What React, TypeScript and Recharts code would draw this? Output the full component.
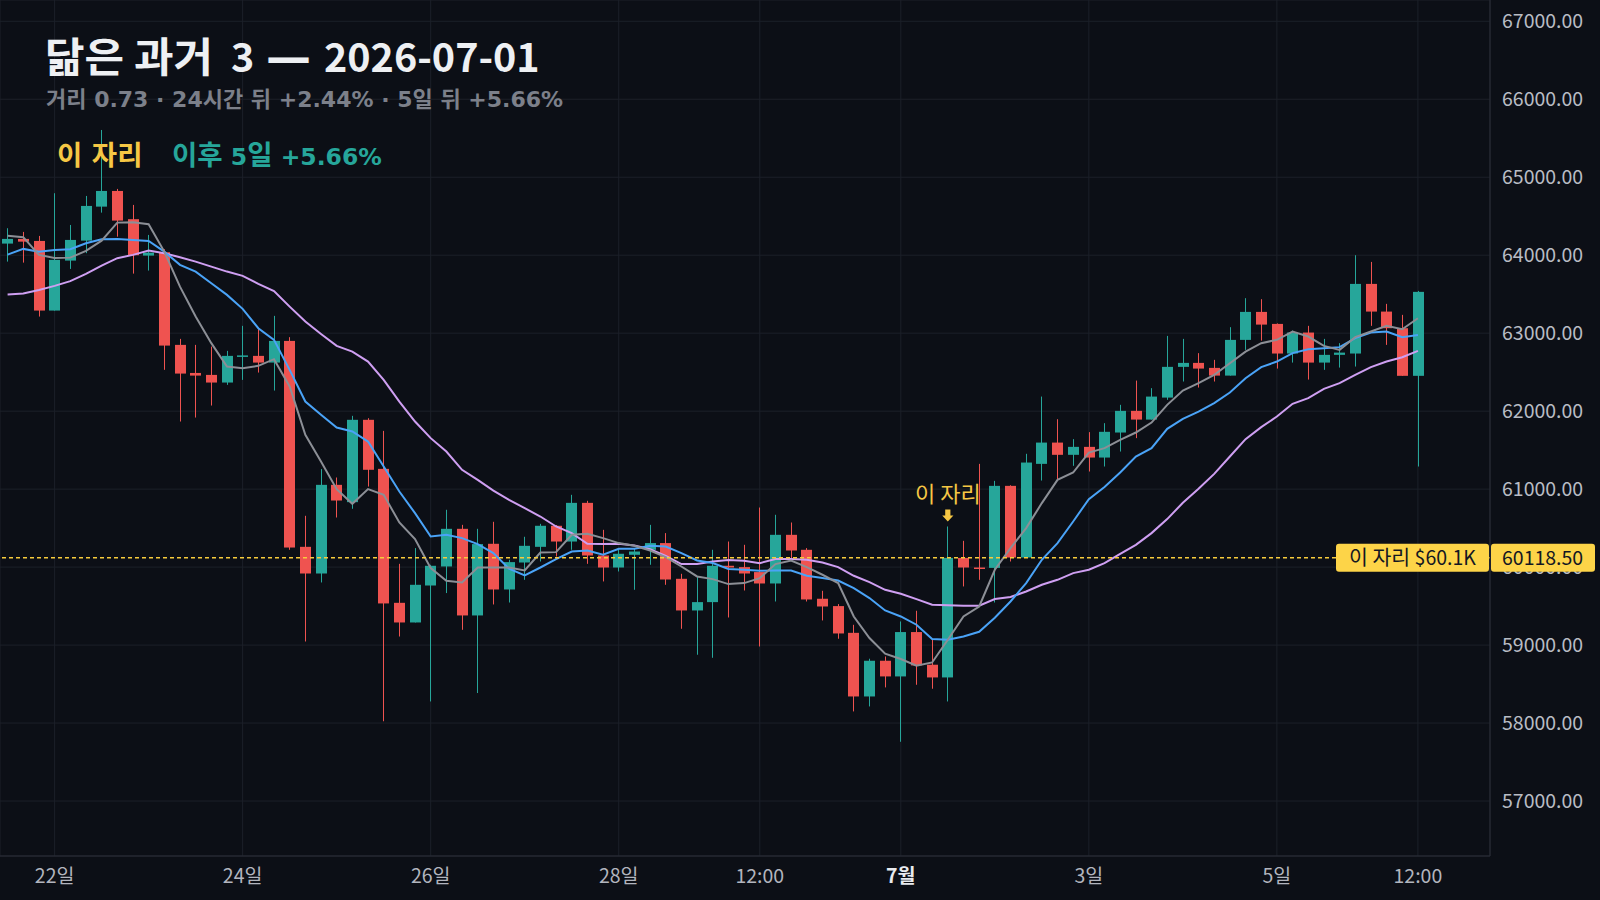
import React from 'react';
import {
  ComposedChart,
  Bar,
  Line,
  XAxis,
  YAxis,
  CartesianGrid,
  ReferenceLine,
  ReferenceDot,
} from 'recharts';

// 4h candles, 2026-06-21 12:00 .. 2026-07-06 12:00
const opens = [
  64149, 64209, 64183, 63290, 63931, 64187, 64623, 64824, 64462, 63995,
  64038, 62850, 62490, 62465, 62367, 62705, 62709, 62623, 62901, 60260,
  59918, 61055, 60833, 61889, 61260, 59542, 59290, 59764, 60008, 60491,
  59380, 60299, 59713, 60059, 60260, 60530, 60328, 60824, 60149, 59995,
  60158, 60222, 60308, 59850, 59444, 59551, 60017, 60000, 59936, 59790,
  60414, 60222, 59594, 59500, 59157, 58341, 58799, 58598, 59167, 58748,
  58585, 60118, 59995, 59990, 61042, 60123, 61324, 61597, 61440, 61542,
  61405, 61726, 62004, 61892, 62174, 62568, 62619, 62555, 62456, 62914,
  63273, 63119, 62739, 63008, 62623, 62722, 62739, 63632, 63277, 63064,
  62453,
];
const highs = [
  64346, 64299, 64247, 64795, 64388, 64760, 65606, 64850, 64645, 64260,
  64077, 62927, 62850, 62828, 62773, 63094, 63051, 63222, 62949, 60658,
  61257, 61149, 61940, 61910, 61747, 60042, 60244, 60030, 60735, 60542,
  60491, 60581, 60094, 60389, 60555, 60540, 60927, 60850, 60478, 60222,
  60244, 60542, 60436, 59914, 59872, 60222, 60328, 60286, 60764, 60671,
  60572, 60244, 59696, 59526, 59260, 58825, 58854, 59303, 59440, 59068,
  60521, 60337, 61324, 61106, 61050, 61453, 62187, 61897, 61641, 61731,
  61846, 62081, 62392, 62295, 62965, 62927, 62744, 62658, 63077, 63449,
  63436, 63125, 63033, 63094, 62927, 62872, 64000, 63914, 63376, 63235,
  63542,
];
const lows = [
  63918, 63905, 63213, 63290, 63824, 64026, 64546, 64238, 63764, 63803,
  62530, 61867, 61918, 62072, 62337, 62401, 62495, 62264, 60222, 59046,
  59803, 60636, 60748, 61033, 58023, 59110, 59290, 58277, 59667, 59196,
  58385, 59521, 59546, 59837, 60072, 60136, 60222, 60042, 59816, 59944,
  59709, 60030, 59773, 59209, 58876, 58837, 59354, 59700, 58982, 59559,
  60116, 59559, 59316, 59081, 58149, 58213, 58457, 57760, 58491, 58440,
  58277, 59752, 59837, 59546, 60072, 60123, 61110, 61119, 61299, 61226,
  61290, 61482, 61654, 61892, 62145, 62380, 62303, 62380, 62456, 62786,
  62905, 62546, 62623, 62405, 62530, 62559, 62572, 63094, 62850, 62453,
  61290,
];
const closes = [
  64209, 64174, 63290, 63940, 64196, 64632, 64824, 64444, 64000, 64033,
  62841, 62482, 62456, 62367, 62709, 62715, 62623, 62901, 60251, 59918,
  61055, 60854, 61889, 61248, 59534, 59290, 59773, 60017, 60491, 59380,
  60295, 59713, 60064, 60273, 60530, 60328, 60824, 60149, 59995, 60171,
  60200, 60308, 59841, 59444, 59551, 60017, 59995, 59918, 59790, 60414,
  60213, 59585, 59495, 59149, 58341, 58799, 58598, 59167, 58739, 58585,
  60118.5, 59995, 59985, 61042, 60123, 61341, 61597, 61440, 61542, 61405,
  61735, 62004, 61892, 62187, 62568, 62619, 62546, 62456, 62914, 63273,
  63110, 62739, 63008, 62623, 62722, 62751, 63632, 63277, 63064, 62453,
  63530,
];

// moving averages as drawn (gray / blue / purple)
const maFast = [
  64251, 64231, 64004, 63965, 63969, 64055, 64187, 64418, 64423, 64398,
  64046, 63597, 63213, 62872, 62572, 62549, 62581, 62667, 62316, 61696,
  61354, 61000, 60812, 61000, 60927, 60572, 60359, 59987, 59824, 59803,
  59995, 59995, 59995, 59957, 60187, 60192, 60414, 60427, 60372, 60308,
  60273, 60213, 60128, 60008, 59880, 59846, 59782, 59795, 59859, 60039,
  60085, 60000, 59902, 59795, 59367, 59090, 58889, 58821, 58735, 58777,
  59068, 59367, 59495, 59966, 60244, 60500, 60821, 61119, 61213, 61469,
  61526, 61632, 61726, 61854, 62081, 62264, 62359, 62466, 62615, 62764,
  62872, 62915, 63021, 62957, 62837, 62786, 62949, 63021, 63094, 63051,
  63192,
];
const maMid = [
  64008, 64081, 64046, 64068, 64077, 64154, 64205, 64209, 64196, 64183,
  64046, 63876, 63790, 63641, 63491, 63312, 63064, 62914, 62530, 62123,
  61953, 61790, 61739, 61610, 61290, 60969, 60692, 60393, 60414, 60372,
  60295, 60180, 59979, 59893, 59995, 60103, 60200, 60213, 60158, 60235,
  60235, 60273, 60264, 60180, 60085, 60052, 59975, 59966, 59953, 59957,
  59957, 59889, 59859, 59828, 59731, 59603, 59444, 59367, 59261, 59077,
  59068, 59111, 59171, 59350, 59559, 59795, 60094, 60308, 60585, 60872,
  61026, 61213, 61418, 61526, 61773, 61902, 61995, 62103, 62239, 62423,
  62564, 62636, 62744, 62795, 62808, 62821, 62936, 63008, 63021, 62949,
  62978,
];
const maSlow = [
  63495, 63508, 63555, 63607, 63667, 63760, 63867, 63962, 64004, 64059,
  64026, 63974, 63918, 63854, 63790, 63735, 63632, 63540, 63341, 63149,
  62990, 62837, 62764, 62636, 62401, 62123, 61867, 61654, 61482, 61248,
  61119, 60982, 60863, 60756, 60649, 60521, 60436, 60299, 60295, 60299,
  60277, 60231, 60145, 60039, 60039, 60072, 60090, 60081, 60051, 60103,
  60103, 60094, 60059, 60000, 59889, 59808, 59709, 59658, 59590, 59517,
  59511, 59504, 59504, 59590, 59616, 59687, 59773, 59837, 59923, 59966,
  60051, 60171, 60286, 60436, 60616, 60825, 61004, 61196, 61418, 61641,
  61795, 61931, 62094, 62167, 62286, 62359, 62466, 62564, 62636, 62692,
  62773,
];

const xTickIndex = [3, 15, 27, 39, 48, 57, 69, 81, 90];
const xTickLabels = ['22일', '24일', '26일', '28일', '12:00', '7월', '3일', '5일', '12:00'];
const yTicks = [57000, 58000, 59000, 60000, 61000, 62000, 63000, 64000, 65000, 66000, 67000];

const markIndex = 60;
const markPrice = 60118.5;

const BG = '#0c0f16';
const GRID = '#1c2029';
const BORDER = '#2a2e39';
const UP = '#26a69a';
const DOWN = '#ef5350';
const YELLOW = '#f6c744';
const CJK = '"Noto Sans CJK KR", sans-serif';
const DEJAVU = '"DejaVu Sans", "Noto Sans CJK KR", sans-serif';
const X_DOMAIN = [-0.485, 94.6];
const Y_DOMAIN = [56295, 67273];

const data = closes.map((close, i) => ({
  idx: i,
  open: opens[i],
  high: highs[i],
  low: lows[i],
  close,
  range: [lows[i], highs[i]],
  fast: maFast[i],
  mid: maMid[i],
  slow: maSlow[i],
}));

function Candle(props: any) {
  const { x, y, width, height, payload } = props;
  if (x == null || payload == null) return null;
  const { open, close, high, low } = payload;
  const top = Math.min(y, y + height);
  const h = Math.abs(height);
  const k = h / (high - low || 1);
  const yOf = (v: number) => top + (high - v) * k;
  const color = close >= open ? UP : DOWN;
  const cx = Math.round(x + width / 2) + 0.5;
  const bTop = yOf(Math.max(open, close));
  const bBot = yOf(Math.min(open, close));
  return (
    <g>
      <line x1={cx} x2={cx} y1={top} y2={top + h} stroke={color} strokeWidth={1} />
      <rect x={cx - 5.5} y={bTop} width={11} height={Math.max(1.5, bBot - bTop)} fill={color} />
    </g>
  );
}

function XTick(props: any) {
  const { x, y, payload } = props;
  const label = xTickLabels[xTickIndex.indexOf(payload.value)];
  const strong = label === '7월';
  return (
    <text
      x={x}
      y={y + 19}
      textAnchor="middle"
      fill={strong ? '#e8eaee' : '#b2b5be'}
      fontWeight={strong ? 700 : 400}
      fontSize={19.5}
      fontFamily={CJK}
    >
      {label}
    </text>
  );
}

function PriceTags(props: any) {
  const vb = props.viewBox || {};
  const right = vb.x + vb.width;
  const cy = vb.y;
  return (
    <g fontFamily={CJK} fontSize={19.5}>
      <rect x={right - 154} y={cy - 14} width={153} height={28} rx={3} fill="#fdd448" />
      <text x={right - 77.5} y={cy + 7} textAnchor="middle" fill="#131722">
        <tspan fontSize={20.5}>이 자리</tspan> $60.1K
      </text>
      <rect x={right + 1} y={cy - 14} width={104} height={28} rx={3} fill="#fdd448" />
      <text x={right + 12} y={cy + 7} fill="#131722">
        {markPrice.toFixed(2)}
      </text>
    </g>
  );
}

function MarkAnnotation(props: any) {
  const { cx, cy } = props;
  if (cx == null) return null;
  const t = cy - 17;
  return (
    <g>
      <text x={cx} y={cy - 24} textAnchor="middle" fill={YELLOW} fontSize={22} fontFamily={CJK}>
        이 자리
      </text>
      <path
        d={`M${cx - 2.6},${t} H${cx + 2.6} V${t + 6} H${cx + 5.6} L${cx},${t + 12} L${cx - 5.6},${t + 6} H${cx - 2.6} Z`}
        fill={YELLOW}
      />
    </g>
  );
}

const layer: React.CSSProperties = { position: 'absolute', left: 0, top: 0, pointerEvents: 'none' };

export default function App() {
  return (
    <div
      style={{
        position: 'fixed',
        left: 0,
        top: 0,
        width: 1600,
        height: 900,
        background: BG,
        overflow: 'hidden',
      }}
    >
      <div style={layer}>
        <ComposedChart
          width={1600}
          height={900}
          data={data}
          margin={{ top: 0, right: 0, bottom: 0, left: 0 }}
        >
          <CartesianGrid stroke={GRID} strokeWidth={1} />
          <XAxis
            type="number"
            dataKey="idx"
            domain={X_DOMAIN}
            ticks={xTickIndex}
            tick={<XTick />}
            height={44}
            axisLine={{ stroke: BORDER }}
            tickLine={false}
            allowDataOverflow
          />
          <YAxis
            orientation="right"
            domain={Y_DOMAIN}
            ticks={yTicks}
            width={110}
            allowDataOverflow
            axisLine={{ stroke: BORDER }}
            tickLine={false}
            tickMargin={6}
            tickFormatter={(v: number) => v.toFixed(2)}
            tick={{ fill: '#b8bcc4', fontSize: 19.5, fontFamily: CJK, textAnchor: 'start' }}
          />
          <Bar dataKey="range" barSize={11} shape={<Candle />} isAnimationActive={false} />
          <Line type="linear" dataKey="slow" stroke="#cf9ff2" strokeWidth={2} dot={false} activeDot={false} isAnimationActive={false} />
          <Line type="linear" dataKey="mid" stroke="#4aa3f7" strokeWidth={2} dot={false} activeDot={false} isAnimationActive={false} />
          <Line type="linear" dataKey="fast" stroke="#8c8f96" strokeWidth={2} dot={false} activeDot={false} isAnimationActive={false} />
          <ReferenceLine y={markPrice} stroke="#f7cc3c" strokeWidth={1.5} strokeDasharray="4 3" />
          <ReferenceDot
            x={markIndex}
            y={highs[markIndex]}
            r={0}
            shape={(p: any) => <MarkAnnotation {...p} />}
          />
        </ComposedChart>
      </div>

      {/* price tags sit above the axis labels, so they get their own layer on the same scales */}
      <div style={layer}>
        <ComposedChart
          width={1600}
          height={900}
          data={data}
          margin={{ top: 0, right: 0, bottom: 0, left: 0 }}
        >
          <XAxis type="number" dataKey="idx" domain={X_DOMAIN} height={44} tick={false} axisLine={false} tickLine={false} allowDataOverflow />
          <YAxis orientation="right" domain={Y_DOMAIN} width={110} tick={false} axisLine={false} tickLine={false} allowDataOverflow />
          <ReferenceLine
            y={markPrice}
            stroke="none"
            strokeOpacity={0}
            label={(p: any) => <PriceTags {...p} />}
          />
        </ComposedChart>
      </div>

      <svg width={1600} height={200} style={layer}>
        <text y={72} fill="#eef0f3" fontWeight={700} fontFamily={CJK}>
          <tspan x={45} fontSize={41} textLength={168} lengthAdjust="spacingAndGlyphs">
            닮은 과거
          </tspan>
          <tspan x={231} fontSize={39.5}>3</tspan>
          <tspan x={266} fontSize={45} fontFamily={DEJAVU}>—</tspan>
          <tspan x={324} fontSize={39.5}>2026-07-01</tspan>
        </text>
        <text x={46} y={107} fill="#7c808a" fontSize={22} fontWeight={700} fontFamily={DEJAVU}>
          거리 0.73 · 24시간 뒤 +2.44% · 5일 뒤 +5.66%
        </text>
        <text x={57} y={165} fill={YELLOW} fontSize={27.5} fontWeight={700} fontFamily={DEJAVU}>
          이 자리
        </text>
        <text x={172} y={165} fill={UP} fontWeight={700} fontFamily={DEJAVU}>
          <tspan fontSize={27.5}>이후</tspan>
          <tspan fontSize={23.5}> 5</tspan>
          <tspan fontSize={27.5}>일</tspan>
          <tspan fontSize={23.5}> +5.66%</tspan>
        </text>
      </svg>
    </div>
  );
}
